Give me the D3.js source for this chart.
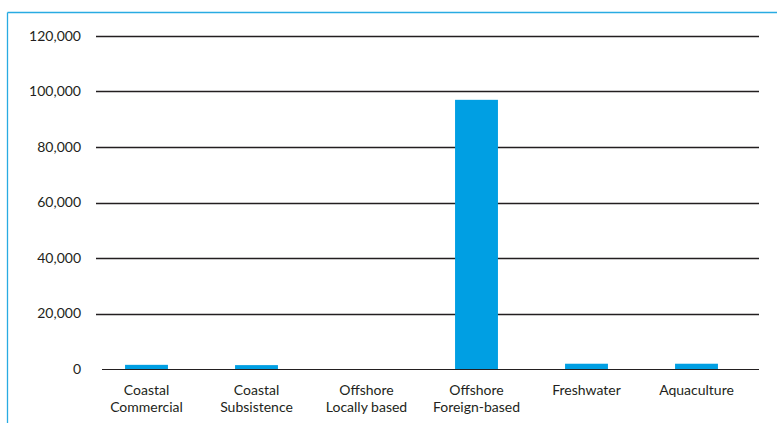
<!DOCTYPE html>
<html>
<head>
<meta charset="utf-8">
<script src="https://cdn.jsdelivr.net/npm/d3@7"></script>
<style>
  html, body { margin: 0; padding: 0; background: #fff; }
  svg { display: block; }
  text { font-family: Lato, "Open Sans", sans-serif; fill: #231f20; }
</style>
</head>
<body>
<svg id="chart" width="777" height="423"></svg>
<script>
const categories = [
  ["Coastal", "Commercial"],
  ["Coastal", "Subsistence"],
  ["Offshore", "Locally based"],
  ["Offshore", "Foreign-based"],
  ["Freshwater"],
  ["Aquaculture"]
];
const values = [1500, 1400, 0, 97000, 1900, 1900];
const yTicks = [0, 20000, 40000, 60000, 80000, 100000, 120000];

const svg = d3.select("#chart");
const W = 777, H = 423;
const FONT = 'Lato, "Open Sans", sans-serif';
const FS = 14;

// frame
svg.append("line").attr("x1", 7.5).attr("x2", W).attr("y1", 12.5).attr("y2", 12.5)
  .attr("stroke", "#29abe2").attr("stroke-width", 1.3);
svg.append("line").attr("x1", 7.5).attr("x2", 7.5).attr("y1", 12.5).attr("y2", H)
  .attr("stroke", "#29abe2").attr("stroke-width", 1.3);

const idx = categories.map((d, i) => i);
const x = d3.scaleBand().domain(idx).range([91.5, 751.5]).paddingInner(0.61).paddingOuter(0.305);
const y = d3.scaleLinear().domain([0, 120000]).range([369, 36]);

// gridlines
const gridLeft = 96, gridRight = 759;
svg.append("g").selectAll("line").data(yTicks.filter(t => t > 0)).join("line")
  .attr("x1", gridLeft).attr("x2", gridRight)
  .attr("y1", d => Math.round(y(d)) + 0.5).attr("y2", d => Math.round(y(d)) + 0.5)
  .attr("stroke", "#231f20").attr("stroke-width", 1.4);

// y axis labels
const yAxis = d3.axisLeft(y).tickValues(yTicks).tickSize(0).tickPadding(0)
  .tickFormat(d3.format(","));
const gy = svg.append("g").attr("transform", "translate(81,0)").call(yAxis);
gy.select(".domain").remove();
gy.selectAll("text").attr("font-size", FS).style("font-family", FONT).attr("fill", "#231f20");

// bars
svg.append("g").selectAll("rect").data(values).join("rect")
  .attr("x", (d, i) => x(i))
  .attr("width", x.bandwidth())
  .attr("y", d => y(d))
  .attr("height", d => y(0) - y(d))
  .attr("fill", "#009fe3");

// zero baseline
svg.append("line").attr("x1", 102).attr("x2", gridRight)
  .attr("y1", y(0) + 0.5).attr("y2", y(0) + 0.5)
  .attr("stroke", "#231f20").attr("stroke-width", 1.2);

// x axis labels
const xAxis = d3.axisBottom(x).tickSize(0).tickFormat(() => "");
const gx = svg.append("g").attr("transform", `translate(0,${y(0)})`).call(xAxis);
gx.select(".domain").remove();
gx.selectAll(".tick").each(function(i) {
  const g = d3.select(this);
  g.select("text").remove();
  categories[i].forEach((line, k) => {
    g.append("text")
      .attr("x", 0).attr("y", 26 + k * 16.9)
      .attr("text-anchor", "middle")
      .attr("font-size", FS)
      .style("font-family", FONT)
      .attr("fill", "#231f20")
      .text(line);
  });
});
</script>
</body>
</html>
